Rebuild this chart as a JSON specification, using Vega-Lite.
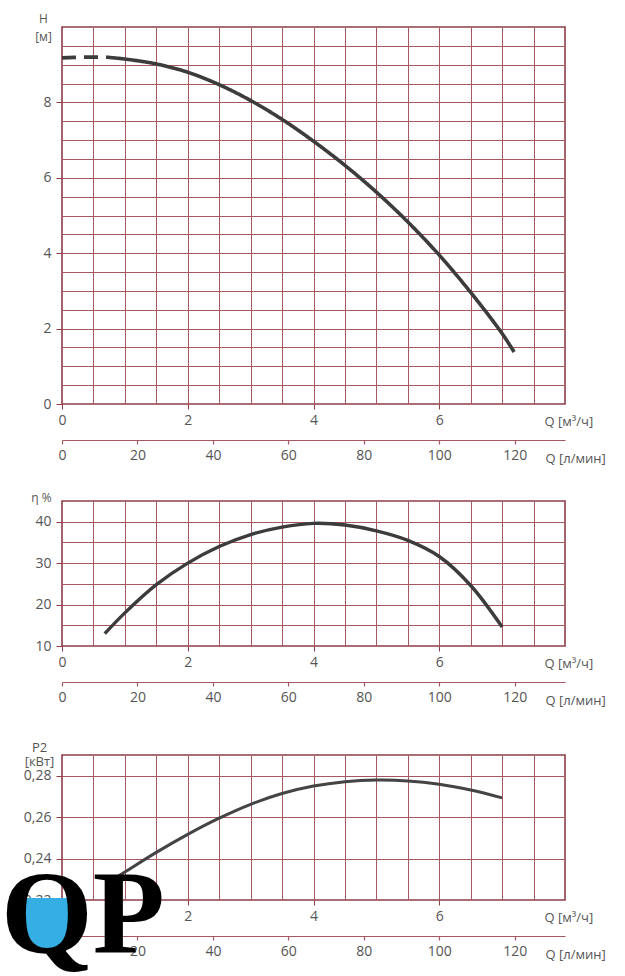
{
  "$schema": "https://vega.github.io/schema/vega-lite/v6.json",
  "padding": {"top": 11, "left": 0, "right": 0, "bottom": 0},
  "background": "white",
  "spacing": 24,
  "config": {
    "view": {"stroke": "#8e3d48", "strokeWidth": 1.6},
    "axis": {
      "labelFont": "Open Sans", "titleFont": "Open Sans",
      "labelFontSize": 14, "labelColor": "#555555",
      "titleColor": "#555555", "titleFontSize": 13, "titleFontWeight": "normal",
      "gridColor": "#a65862", "gridWidth": 1, "tickColor": "#8e3d48",
      "labelOverlap": false, "labelFlush": false
    }
  },
  "datasets": {
    "head": [
      {"q": 0, "h": 9.18, "seg": "dashed"},
      {"q": 0.35, "h": 9.2, "seg": "dashed"},
      {"q": 0.7, "h": 9.2, "seg": "dashed"},
      {"q": 0.7, "h": 9.2, "seg": "solid"},
      {"q": 1.0, "h": 9.15, "seg": "solid"},
      {"q": 1.5, "h": 9.02, "seg": "solid"},
      {"q": 2.0, "h": 8.8, "seg": "solid"},
      {"q": 2.5, "h": 8.47, "seg": "solid"},
      {"q": 3.0, "h": 8.05, "seg": "solid"},
      {"q": 3.5, "h": 7.55, "seg": "solid"},
      {"q": 4.0, "h": 6.97, "seg": "solid"},
      {"q": 4.5, "h": 6.33, "seg": "solid"},
      {"q": 5.0, "h": 5.62, "seg": "solid"},
      {"q": 5.5, "h": 4.83, "seg": "solid"},
      {"q": 6.0, "h": 3.95, "seg": "solid"},
      {"q": 6.5, "h": 2.96, "seg": "solid"},
      {"q": 7.0, "h": 1.87, "seg": "solid"},
      {"q": 7.19, "h": 1.38, "seg": "solid"}
    ],
    "eta": [
      {"q": 0.68, "e": 13.0},
      {"q": 1.0, "e": 18.0},
      {"q": 1.5, "e": 24.8},
      {"q": 2.0, "e": 30.0},
      {"q": 2.5, "e": 34.0},
      {"q": 3.0, "e": 36.9},
      {"q": 3.5, "e": 38.7},
      {"q": 4.0, "e": 39.6},
      {"q": 4.5, "e": 39.2},
      {"q": 5.0, "e": 37.8},
      {"q": 5.5, "e": 35.5},
      {"q": 6.0, "e": 31.6},
      {"q": 6.5, "e": 24.6},
      {"q": 7.0, "e": 14.6}
    ],
    "power": [
      {"q": 0.7, "p": 0.2277},
      {"q": 1.0, "p": 0.2335},
      {"q": 1.5, "p": 0.243},
      {"q": 2.0, "p": 0.2517},
      {"q": 2.5, "p": 0.2595},
      {"q": 3.0, "p": 0.2662},
      {"q": 3.5, "p": 0.2714},
      {"q": 4.0, "p": 0.275},
      {"q": 4.5, "p": 0.2771},
      {"q": 5.0, "p": 0.2779},
      {"q": 5.5, "p": 0.2775},
      {"q": 6.0, "p": 0.2759},
      {"q": 6.5, "p": 0.2731},
      {"q": 7.0, "p": 0.2693}
    ],
    "lpm": [{"l": 0}, {"l": 133.333}],
    "water": [{"lx": -0.239, "ly": 0.221}],
    "logo": [{"lx": -0.97, "ly": 0.1945, "txt": "QP"}]
  },
  "vconcat": [
    {
      "width": 503, "height": 377,
      "layer": [
        {
          "data": {"name": "head"},
          "mark": {"type": "line", "color": "#3c3c3c", "strokeWidth": 3.6, "interpolate": "catmull-rom"},
          "encoding": {
            "x": {"field": "q", "type": "quantitative", "scale": {"domain": [0, 8], "nice": false, "zero": false},
              "axis": {"values": [0,0.5,1,1.5,2,2.5,3,3.5,4,4.5,5,5.5,6,6.5,7,7.5,8], "grid": true, "domain": false,
                "gridOpacity": {"condition": {"test": "datum.value > 0 && datum.value < 8", "value": 1}, "value": 0},
                "tickSize": 5, "tickOpacity": {"condition": {"test": "datum.value % 2 === 0 && datum.value < 8", "value": 1}, "value": 0},
                "labelExpr": "datum.value % 2 === 0 && datum.value < 8 ? format(datum.value, 'd') : ''", "labelPadding": 4,
                "title": "Q [м³/ч]", "titleX": 482, "titleY": 17, "titleAlign": "left", "titleBaseline": "middle"}},
            "y": {"field": "h", "type": "quantitative", "scale": {"domain": [0, 10], "nice": false, "zero": false},
              "axis": {"values": [0,0.5,1,1.5,2,2.5,3,3.5,4,4.5,5,5.5,6,6.5,7,7.5,8,8.5,9,9.5,10], "grid": true, "domain": false,
                "gridOpacity": {"condition": {"test": "datum.value > 0 && datum.value < 10", "value": 1}, "value": 0},
                "tickSize": 6, "tickOpacity": {"condition": {"test": "datum.value % 2 === 0 && datum.value < 10", "value": 1}, "value": 0},
                "labelExpr": "datum.value % 2 === 0 && datum.value < 10 ? format(datum.value, 'd') : ''", "labelPadding": 5,
                "title": ["H", "[м]"], "titleAngle": 0, "titleX": -19, "titleY": -5, "titleAlign": "center", "titleBaseline": "alphabetic", "titleLineHeight": 18, "titleFontSize": 12}},
            "strokeDash": {"field": "seg", "type": "nominal", "scale": {"domain": ["dashed", "solid"], "range": [[14, 8], [1, 0]]}, "legend": null}
          }
        },
        {
          "data": {"name": "lpm"},
          "mark": {"type": "point", "opacity": 0},
          "encoding": {
            "x": {"field": "l", "type": "quantitative", "scale": {"domain": [0, 133.333], "nice": false, "zero": false},
              "axis": {"orient": "bottom", "offset": 36, "values": [0,20,40,60,80,100,120], "grid": false, "domain": true,
                "domainColor": "#a65862", "domainWidth": 1.2, "tickSize": 4, "tickColor": "#a65862", "tickWidth": 1.2, "labelPadding": 4,
                "title": "Q [л/мин]", "titleX": 483, "titleY": 18, "titleAlign": "left", "titleBaseline": "middle"}}
          }
        }
      ],
      "resolve": {"scale": {"x": "independent"}}
    },
    {
      "width": 503, "height": 145,
      "layer": [
        {
          "data": {"name": "eta"},
          "mark": {"type": "line", "color": "#3c3c3c", "strokeWidth": 3.4, "interpolate": "catmull-rom"},
          "encoding": {
            "x": {"field": "q", "type": "quantitative", "scale": {"domain": [0, 8], "nice": false, "zero": false},
              "axis": {"values": [0,0.5,1,1.5,2,2.5,3,3.5,4,4.5,5,5.5,6,6.5,7,7.5,8], "grid": true, "domain": false,
                "gridOpacity": {"condition": {"test": "datum.value > 0 && datum.value < 8", "value": 1}, "value": 0},
                "tickSize": 5, "tickOpacity": {"condition": {"test": "datum.value % 2 === 0 && datum.value < 8", "value": 1}, "value": 0},
                "labelExpr": "datum.value % 2 === 0 && datum.value < 8 ? format(datum.value, 'd') : ''", "labelPadding": 4,
                "title": "Q [м³/ч]", "titleX": 482, "titleY": 17, "titleAlign": "left", "titleBaseline": "middle"}},
            "y": {"field": "e", "type": "quantitative", "scale": {"domain": [10, 45], "nice": false, "zero": false},
              "axis": {"values": [10,15,20,25,30,35,40,45], "grid": true, "domain": false,
                "gridOpacity": {"condition": {"test": "datum.value > 10 && datum.value < 45", "value": 1}, "value": 0},
                "tickSize": 6, "tickOpacity": {"condition": {"test": "datum.value % 10 === 0", "value": 1}, "value": 0},
                "labelExpr": "datum.value % 10 === 0 ? format(datum.value, 'd') : ''", "labelPadding": 5,
                "title": "η %", "titleAngle": 0, "titleX": -21, "titleY": 0, "titleAlign": "center", "titleBaseline": "alphabetic", "titleFontSize": 12}}
          }
        },
        {
          "data": {"name": "lpm"},
          "mark": {"type": "point", "opacity": 0},
          "encoding": {
            "x": {"field": "l", "type": "quantitative", "scale": {"domain": [0, 133.333], "nice": false, "zero": false},
              "axis": {"orient": "bottom", "offset": 36, "values": [0,20,40,60,80,100,120], "grid": false, "domain": true,
                "domainColor": "#a65862", "domainWidth": 1.2, "tickSize": 4, "tickColor": "#a65862", "tickWidth": 1.2, "labelPadding": 4,
                "minExtent": 33,
                "title": "Q [л/мин]", "titleX": 483, "titleY": 18, "titleAlign": "left", "titleBaseline": "middle"}}
          }
        }
      ],
      "resolve": {"scale": {"x": "independent"}}
    },
    {
      "width": 503, "height": 145,
      "layer": [
        {
          "data": {"name": "power"},
          "mark": {"type": "line", "color": "#444444", "strokeWidth": 3, "interpolate": "catmull-rom"},
          "encoding": {
            "x": {"field": "q", "type": "quantitative", "scale": {"domain": [0, 8], "nice": false, "zero": false},
              "axis": {"values": [0,0.5,1,1.5,2,2.5,3,3.5,4,4.5,5,5.5,6,6.5,7,7.5,8], "grid": true, "domain": false,
                "gridOpacity": {"condition": {"test": "datum.value > 0 && datum.value < 8", "value": 1}, "value": 0},
                "tickSize": 5, "tickOpacity": {"condition": {"test": "datum.value % 2 === 0 && datum.value < 8", "value": 1}, "value": 0},
                "labelExpr": "datum.value % 2 === 0 && datum.value < 8 ? format(datum.value, 'd') : ''", "labelPadding": 4,
                "title": "Q [м³/ч]", "titleX": 482, "titleY": 17, "titleAlign": "left", "titleBaseline": "middle"}},
            "y": {"field": "p", "type": "quantitative", "scale": {"domain": [0.22, 0.29], "nice": false, "zero": false},
              "axis": {"values": [0.22,0.23,0.24,0.25,0.26,0.27,0.28,0.29], "grid": true, "domain": false,
                "gridOpacity": {"condition": {"test": "datum.value > 0.225 && datum.value < 0.285", "value": 1}, "value": 0},
                "tickSize": 6, "tickOpacity": {"condition": {"test": "round(datum.value*100) % 2 === 0 && datum.value < 0.285", "value": 1}, "value": 0},
                "labelExpr": "round(datum.value*100) % 2 === 0 && datum.value < 0.285 ? replace(format(datum.value, '.2f'), '.', ',') : ''", "labelPadding": 5,
                "title": ["P2", "[кВт]"], "titleAngle": 0, "titleX": -23, "titleY": -4, "titleAlign": "center", "titleBaseline": "alphabetic", "titleLineHeight": 14, "titleFontSize": 13}}
          }
        },
        {
          "data": {"name": "lpm"},
          "mark": {"type": "point", "opacity": 0},
          "encoding": {
            "x": {"field": "l", "type": "quantitative", "scale": {"domain": [0, 133.333], "nice": false, "zero": false},
              "axis": {"orient": "bottom", "offset": 36, "values": [0,20,40,60,80,100,120], "grid": false, "domain": true,
                "domainColor": "#a65862", "domainWidth": 1.2, "tickSize": 4, "tickColor": "#a65862", "tickWidth": 1.2, "labelPadding": 4,
                "title": "Q [л/мин]", "titleX": 483, "titleY": 18, "titleAlign": "left", "titleBaseline": "middle"}}
          }
        },
        {
          "data": {"name": "water"},
          "mark": {"type": "point", "shape": "M -1 0 A 1 1.7 0 0 0 1 0 Z", "filled": true, "color": "#35aee3", "opacity": 1, "size": 3600, "strokeWidth": 0},
          "encoding": {
            "x": {"field": "lx", "type": "quantitative", "scale": {"domain": [0, 8], "nice": false, "zero": false}, "axis": null},
            "y": {"field": "ly", "type": "quantitative"}
          }
        },
        {
          "data": {"name": "logo"},
          "mark": {"type": "text", "font": "Liberation Serif", "fontSize": 118, "fontWeight": "bold", "align": "left", "baseline": "alphabetic", "color": "#000000"},
          "encoding": {
            "x": {"field": "lx", "type": "quantitative", "scale": {"domain": [0, 8], "nice": false, "zero": false}, "axis": null},
            "y": {"field": "ly", "type": "quantitative"},
            "text": {"field": "txt"}
          }
        }
      ],
      "resolve": {"scale": {"x": "independent"}}
    }
  ]
}
